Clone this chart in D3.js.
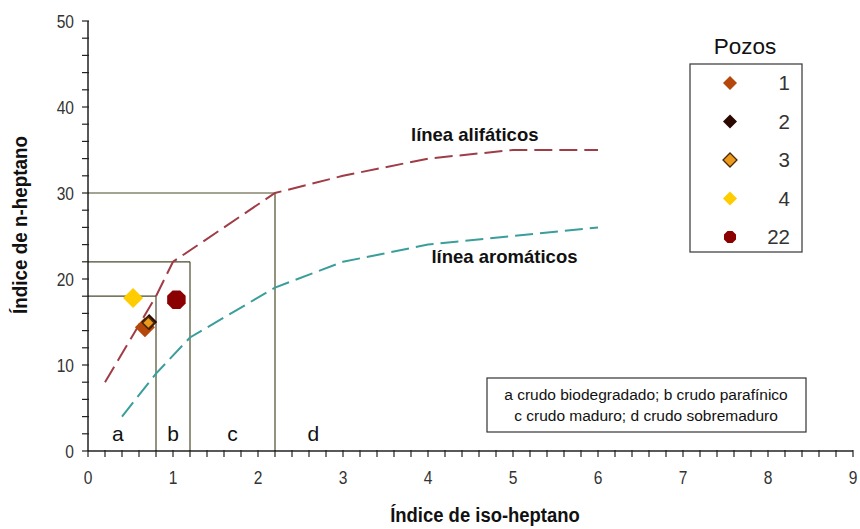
<!DOCTYPE html>
<html>
<head>
<meta charset="utf-8">
<script src="https://cdn.jsdelivr.net/npm/d3@7"></script>
<style>
  body { margin: 0; background: #fff; }
  text { font-family: "Liberation Sans", Arial, sans-serif; }
</style>
</head>
<body>
<div id="vis"></div>
<script>
// data
const wells = ["1", "2", "3", "4", "22"];
const wellX = [0.67, 0.72, 0.71, 0.53, 1.04];
const wellY = [14.4, 15.0, 14.9, 17.8, 17.6];
const wellColors = ["#b5470b", "#2b0800", "#eb9a1e", "#ffcc00", "#8b0000"];

const aliphX = [0.2, 0.5, 0.8, 1.0, 2.2, 3, 4, 5, 6];
const aliphY = [8, 13, 18, 22, 30, 32, 34, 35, 35];
const aromX = [0.4, 0.8, 1.2, 2.2, 3, 4, 5, 6];
const aromY = [4, 9, 13.2, 19, 22, 24, 25, 26];

// zone limits (a, b, c)
const zoneX = [0.8, 1.2, 2.2];
const zoneY = [18, 22, 30];
const zoneLabels = ["a", "b", "c", "d"];
const zoneLabelX = [0.35, 1.0, 1.7, 2.65];

const xTicks = [0, 1, 2, 3, 4, 5, 6, 7, 8, 9];
const yTicks = [0, 10, 20, 30, 40, 50];

let W = 860, H = 529;
let margin = { top: 21, left: 88, right: 7, bottom: 78 };
let width = 853 - margin.left, height = 451 - margin.top;

let svg = d3.select('#vis').append('svg')
  .attr('width', W).attr('height', H);
let g = svg.append('g').attr('transform', `translate(${margin.left},${margin.top})`);

const x = d3.scaleLinear().domain([0, 9]).range([0, width]);
const y = d3.scaleLinear().domain([0, 50]).range([height, 0]);

// zone frames
const frameColor = "#4b4b2b";
zoneX.forEach((zx, i) => {
  g.append("line")
    .attr("x1", x(0)).attr("x2", x(zx))
    .attr("y1", y(zoneY[i])).attr("y2", y(zoneY[i]))
    .attr("stroke", frameColor).attr("stroke-width", 1.2);
  g.append("line")
    .attr("x1", x(zx)).attr("x2", x(zx))
    .attr("y1", y(0)).attr("y2", y(zoneY[i]))
    .attr("stroke", frameColor).attr("stroke-width", 1.2);
});

// minor ticks
const xMinor = d3.range(0, 9.001, 0.2);
const yMinor = d3.range(0, 50.001, 2);

// x axis
let xAxis = g.append("g").attr("transform", `translate(0,${height})`);
xAxis.append("line").attr("x1", 0).attr("x2", width).attr("stroke", "#222").attr("stroke-width", 1.5);
xAxis.selectAll(".tk").data(xMinor).enter().append("line")
  .attr("x1", d => x(d)).attr("x2", d => x(d))
  .attr("y1", -1).attr("y2", 6)
  .attr("stroke", "#222").attr("stroke-width", 1.2);
xAxis.selectAll(".lb").data(xTicks).enter().append("text")
  .attr("transform", d => `translate(${x(d)},33) scale(0.82,1)`)
  .attr("text-anchor", "middle")
  .attr("fill", "#333").style("font-size", "19px")
  .text(d => d);

// y axis
let yAxis = g.append("g");
yAxis.append("line").attr("y1", 0).attr("y2", height).attr("stroke", "#222").attr("stroke-width", 1.5);
yAxis.selectAll(".tk").data(yMinor).enter().append("line")
  .attr("y1", d => y(d)).attr("y2", d => y(d))
  .attr("x1", -6).attr("x2", 1)
  .attr("stroke", "#222").attr("stroke-width", 1.2);
yAxis.selectAll(".lb").data(yTicks).enter().append("text")
  .attr("transform", d => `translate(-14,${y(d)}) scale(0.82,1)`)
  .attr("dy", "0.35em")
  .attr("text-anchor", "end")
  .attr("fill", "#333").style("font-size", "19px")
  .text(d => d);

// reference lines
const line = d3.line().x(d => x(d[0])).y(d => y(d[1]));
g.append("path")
  .datum(d3.zip(aliphX, aliphY))
  .attr("d", line).attr("fill", "none")
  .attr("stroke", "#a03c46").attr("stroke-width", 2)
  .attr("stroke-dasharray", "18,7");
g.append("path")
  .datum(d3.zip(aromX, aromY))
  .attr("d", line).attr("fill", "none")
  .attr("stroke", "#3a9e9c").attr("stroke-width", 2)
  .attr("stroke-dasharray", "18,7");

g.append("text").attr("x", x(4.55)).attr("y", y(36.1)).attr("text-anchor", "middle")
  .style("font-size", "18.5px").style("font-weight", "bold").attr("fill", "#111")
  .text("línea alifáticos");
g.append("text").attr("x", x(4.9)).attr("y", y(21.9)).attr("text-anchor", "middle")
  .style("font-size", "18.5px").style("font-weight", "bold").attr("fill", "#111")
  .text("línea aromáticos");

// zone letters
zoneLabels.forEach((t, i) => {
  g.append("text").attr("x", x(zoneLabelX[i])).attr("y", y(1.2))
    .attr("text-anchor", "middle")
    .style("font-size", "21px").attr("fill", "#111")
    .text(t);
});

// markers
function diamond(r) { return `M0,${-r}L${r},0L0,${r}L${-r},0Z`; }
function octagon(r) {
  let pts = d3.range(8).map(k => {
    let a = Math.PI / 8 + k * Math.PI / 4;
    return [r * Math.cos(a), r * Math.sin(a)];
  });
  return "M" + pts.map(p => p.join(",")).join("L") + "Z";
}
const plotSize = [10, 8, 6, 10, 10];
wells.forEach((w, i) => {
  let shape = w === "22" ? octagon(plotSize[i]) : diamond(plotSize[i]);
  g.append("path")
    .attr("transform", `translate(${x(wellX[i])},${y(wellY[i])})`)
    .attr("d", shape)
    .attr("fill", wellColors[i])
    .attr("stroke", w === "3" ? "#4a2800" : "none")
    .attr("stroke-width", 1.5);
});

// legend
svg.append("text").attr("x", 745).attr("y", 54).attr("text-anchor", "middle")
  .style("font-size", "22.5px").attr("fill", "#111").text("Pozos");
svg.append("rect").attr("x", 690).attr("y", 64).attr("width", 112).attr("height", 188)
  .attr("fill", "none").attr("stroke", "#444").attr("stroke-width", 1.3);
wells.forEach((w, i) => {
  let ly = 83 + i * 38.5;
  let shape = w === "22" ? octagon(6.5) : diamond(7);
  svg.append("path").attr("transform", `translate(730,${ly})`)
    .attr("d", shape).attr("fill", wellColors[i])
    .attr("stroke", w === "3" ? "#4a2800" : "none").attr("stroke-width", 1.3);
  svg.append("text").attr("x", 790).attr("y", ly).attr("dy", "0.36em")
    .attr("text-anchor", "end")
    .style("font-size", "20.5px").attr("fill", "#333").text(w);
});

// note box
svg.append("rect").attr("x", 487).attr("y", 378).attr("width", 319).attr("height", 54)
  .attr("fill", "#fff").attr("stroke", "#333").attr("stroke-width", 1.2);
svg.append("text").attr("x", 646).attr("y", 400).attr("text-anchor", "middle")
  .style("font-size", "15.5px").attr("fill", "#111")
  .text("a crudo biodegradado; b crudo parafínico");
svg.append("text").attr("x", 646).attr("y", 421).attr("text-anchor", "middle")
  .style("font-size", "15.5px").attr("fill", "#111")
  .text("c crudo maduro; d crudo sobremaduro");

// axis titles (squeezed a bit, the original uses a narrow font)
svg.append("text")
  .attr("transform", "translate(485,522) scale(0.9,1)")
  .attr("text-anchor", "middle")
  .style("font-size", "20.5px").style("font-weight", "bold").attr("fill", "#111")
  .text("Índice de iso-heptano");
svg.append("text")
  .attr("transform", "translate(27,225) rotate(-90) scale(0.92,1)")
  .attr("text-anchor", "middle")
  .style("font-size", "20.5px").style("font-weight", "bold").attr("fill", "#111")
  .text("Índice de n-heptano");
</script>
</body>
</html>
